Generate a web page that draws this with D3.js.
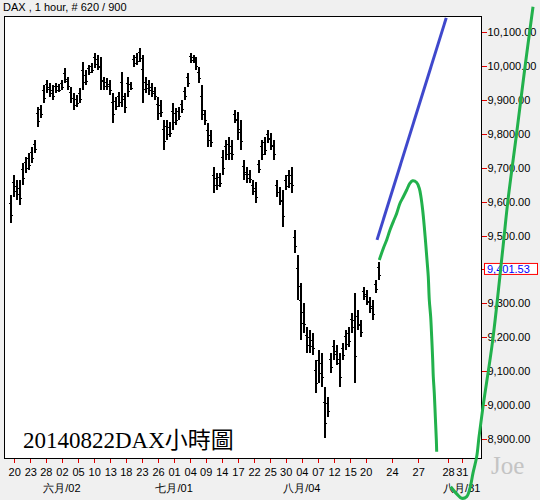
<!DOCTYPE html>
<html><head><meta charset="utf-8">
<script src="https://cdn.jsdelivr.net/npm/d3@7"></script>
<style>body{margin:0;background:#f0f0f0;overflow:hidden}</style>
</head><body>
<svg id="c" width="540" height="500"></svg>
<script>
// ---- data (hourly DAX, each sample = 5 hourly bars) ----
const highs = [9619,9678,9663,9663,9714,9731,9743,9761,9781,9879,9884,9943,9958,9949,9943,9949,9946,9958,9993,9967,
  9937,9920,9914,9934,10011,9987,10002,10008,10038,10032,10026,9967,9964,9958,9920,9908,9923,9982,9920,9967,
  9952,10032,10038,10052,10032,9967,9958,9949,9937,9908,9899,9840,9840,9834,9890,9876,9879,9899,9937,9979,
  10038,10032,10026,9996,9943,9870,9831,9811,9702,9684,9684,9752,9781,9790,9781,9870,9864,9840,9722,9702,
  9693,9663,9658,9722,9781,9790,9811,9802,9781,9663,9643,9634,9678,9693,9702,9516,9443,9360,9301,9230,
  9222,9213,9133,9163,9154,9054,9024,9154,9192,9178,9154,9183,9222,9230,9272,9331,9281,9251,9348,9340,
  9319,9310,9369,9422];
const lows = [9537,9613,9605,9590,9649,9684,9693,9714,9743,9820,9846,9890,9920,9908,9899,9920,9923,9929,9949,9929,
  9890,9870,9879,9890,9929,9943,9973,9979,9993,9987,9929,9929,9929,9914,9831,9870,9879,9879,9861,9908,
  9929,9996,10002,10011,9890,9920,9914,9908,9899,9840,9849,9752,9781,9790,9811,9826,9840,9861,9899,9937,
  10008,10008,9987,9949,9840,9826,9761,9761,9625,9634,9643,9678,9722,9722,9722,9831,9781,9752,9663,9655,
  9655,9619,9596,9684,9722,9737,9772,9752,9722,9613,9590,9525,9634,9640,9625,9448,9310,9192,9213,9154,
  9154,9148,9036,9066,9054,8904,8966,9095,9133,9119,9054,9133,9163,9172,9213,9066,9222,9201,9310,9295,
  9272,9251,9331,9369];
const barsPerSample = 5;
const totalBars = 620;
const lastPrice = 9401.53;

const yTicks = [8900,9000,9100,9200,9300,9400,9500,9600,9700,9800,9900,10000,10100];
const yLabelTicks = [8900,9000,9100,9200,9300,9500,9600,9700,9800,9900,10000,10100];
const xTickBars = [7,34,60,87,114,141,168,194,221,248,275,302,328,355,382,409,436,462,489,516,543,570,596,640,684,734,757];
const xTickLabels = ["20","23","28","02","05","10","13","18","23","26","01","04","09","14","17","22","25","30","04","07","12","15","20","24","27","28","31"];
const monthLabels = ["六月/02","七月/01","八月/04","八月/31"];
const monthBars = [87,275,489,757];

// hand-drawn forecast annotations: [bar index, price]
const blueLine = [[615,9487],[731,10141]];
const greenCurve1 = [[618.8,9428],[625.5,9462],[631.2,9487],[636.7,9516],[642.3,9541],[647.9,9565],[653.5,9595],
  [659.1,9614],[664.7,9634],[670.2,9654],[674.7,9661],[681.4,9656],[685.8,9639],[688.6,9614],[691.5,9575],
  [694.2,9526],[697,9467],[699.2,9418],[700.9,9379],[702.6,9310],[704.9,9261],[706.6,9202],[708.3,9133],
  [709.3,9084],[711,9035],[712.7,8966],[714.4,8898],[715,8863]];
const greenCurve2 = [[738.4,8760],[748.5,8739],[756.9,8726],[765.3,8731],[770.8,8756],[775.8,8800],[782,8848],
  [785.9,8907],[792.6,8996],[808.9,9192],[826.1,9466],[834.5,9605],[849,9802],[863,9997],[876.4,10174]];

// ---- chart ----
const svg = d3.select("#c");
const font = "'Liberation Sans', Arial, sans-serif";
const L = 4, T = 16, R = 481, B = 458;

const x = d3.scaleLinear().domain([0, totalBars]).range([10, 380]);
const y = d3.scaleLinear().domain([8900, 10100]).range([439.2, 31.8]);

svg.append("rect").attr("x",0).attr("y",0).attr("width",540).attr("height",500).attr("fill","#f0f0f0");
svg.append("rect").attr("x",L+0.5).attr("y",T+0.5).attr("width",R-L).attr("height",B-T)
  .attr("fill","#fff").attr("stroke","#000").attr("stroke-width",1);

svg.append("text").attr("x",3).attr("y",11).attr("font-family",font).attr("font-size",11)
  .attr("fill","#000").text("DAX , 1 hour, # 620 / 900");

// price bars
const samples = highs.map((h,i)=>({h, l: lows[i], bar: i*barsPerSample + barsPerSample/2}));
const gb = svg.append("g").attr("shape-rendering","crispEdges");
gb.selectAll("rect.body").data(samples).join("rect").attr("class","body")
  .attr("x", d => Math.round(x(d.bar)) - 1)
  .attr("width", 2)
  .attr("y", d => y(d.h))
  .attr("height", d => Math.max(1, y(d.l) - y(d.h)))
  .attr("fill", "#000");
// hourly-bar open/close ticks at the range ends
gb.selectAll("rect.tl").data(samples).join("rect").attr("class","tl")
  .attr("x", d => Math.round(x(d.bar)) - 2).attr("width", 1)
  .attr("y", d => y(d.h) + (y(d.l)-y(d.h))*0.3).attr("height", 1).attr("fill","#000");
gb.selectAll("rect.tr").data(samples).join("rect").attr("class","tr")
  .attr("x", d => Math.round(x(d.bar)) + 1).attr("width", 1)
  .attr("y", d => y(d.h) + (y(d.l)-y(d.h))*0.7).attr("height", 1).attr("fill","#000");

// right axis
const yAxis = d3.axisRight(y).tickValues(yTicks).tickSize(5).tickPadding(1)
  .tickFormat(d => yLabelTicks.includes(d) ? d3.format(",.2f")(d) : "");
const gy = svg.append("g").attr("transform",`translate(${R+0.5},0)`).call(yAxis);
gy.select(".domain").remove();
gy.selectAll(".tick line").attr("stroke","#e00000").attr("shape-rendering","crispEdges");
gy.selectAll(".tick text").attr("font-family",font).attr("font-size",11).attr("fill","#000");

// bottom axis
const xAxis = d3.axisBottom(x).tickValues(xTickBars).tickSize(4).tickPadding(6)
  .tickFormat((d,i) => xTickLabels[i]);
const gx = svg.append("g").attr("transform",`translate(0,${B+0.5})`).call(xAxis);
gx.select(".domain").remove();
gx.selectAll(".tick line").attr("stroke","#e00000").attr("shape-rendering","crispEdges");
gx.selectAll(".tick text").attr("font-family",font).attr("font-size",11).attr("fill","#000");

svg.append("g").selectAll("text").data(monthLabels).join("text")
  .attr("x",(d,i)=>x(monthBars[i])).attr("y",492).attr("text-anchor","middle")
  .attr("font-family",font).attr("font-size",11).attr("fill","#000").text(d=>d);

// last price label
const lp = svg.append("g");
lp.append("rect").attr("x",484.5).attr("y",y(lastPrice)-5.5).attr("width",53).attr("height",11)
  .attr("fill","#fff").attr("stroke","#ff0000");
lp.append("text").attr("x",487).attr("y",y(lastPrice)+4).attr("font-family",font).attr("font-size",11)
  .attr("fill","#0000ff").text(d3.format(",.2f")(lastPrice));

// chart caption
svg.append("text").attr("x",23).attr("y",448)
  .attr("font-family","'Liberation Serif','Times New Roman','Noto Sans CJK TC',serif")
  .attr("font-size",23).attr("fill","#000").text("20140822DAX小時圖");

svg.append("text").attr("x",491).attr("y",474)
  .attr("font-family","'Liberation Serif','Times New Roman',serif")
  .attr("font-size",25).attr("fill","#c4c4c4").text("Joe");

// annotations
const line = d3.line().x(d=>x(d[0])).y(d=>y(d[1])).curve(d3.curveCatmullRom);
svg.append("path").attr("d", line(blueLine)).attr("fill","none").attr("stroke","#3f48cc").attr("stroke-width",3);
svg.append("path").attr("d", line(greenCurve1)).attr("fill","none").attr("stroke","#22b14c").attr("stroke-width",3);
svg.append("path").attr("d", line(greenCurve2)).attr("fill","none").attr("stroke","#22b14c").attr("stroke-width",3);
</script>
</body></html>
